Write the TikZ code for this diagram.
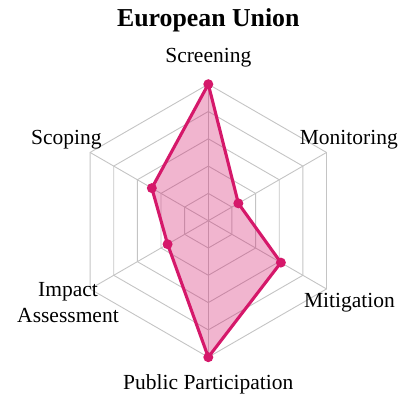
\documentclass[tikz,border=0pt]{standalone}
\usepackage{fontspec}
\setmainfont{Liberation Serif}
\definecolor{eucrimson}{HTML}{D5186A}
\definecolor{gridgray}{HTML}{C4C4C4}
\tikzset{
    grid/.style={draw=gridgray, line width=0.9pt, line join=miter},
    series/.style={draw=eucrimson, line width=3.1pt, line join=round,
        fill=eucrimson, fill opacity=0.32},
    dot/.style={fill=eucrimson},
    axislabel/.style={font=\fontsize{21.5}{26}\selectfont, anchor=base, inner sep=0pt},
    title/.style={font=\fontsize{25.8}{30}\selectfont\bfseries, anchor=base, inner sep=0pt},
}

\begin{document}
\begin{tikzpicture}
    \useasboundingbox (-208.3pt,-174.3pt) rectangle (194.7pt,220.7pt);
    % grid rings
    \draw[grid] (90:27.3pt) -- (30:27.3pt) -- (-30:27.3pt) -- (-90:27.3pt) -- (210:27.3pt) -- (150:27.3pt) -- cycle;
    \draw[grid] (90:54.6pt) -- (30:54.6pt) -- (-30:54.6pt) -- (-90:54.6pt) -- (210:54.6pt) -- (150:54.6pt) -- cycle;
    \draw[grid] (90:81.9pt) -- (30:81.9pt) -- (-30:81.9pt) -- (-90:81.9pt) -- (210:81.9pt) -- (150:81.9pt) -- cycle;
    \draw[grid] (90:109.2pt) -- (30:109.2pt) -- (-30:109.2pt) -- (-90:109.2pt) -- (210:109.2pt) -- (150:109.2pt) -- cycle;
    \draw[grid] (90:136.5pt) -- (30:136.5pt) -- (-30:136.5pt) -- (-90:136.5pt) -- (210:136.5pt) -- (150:136.5pt) -- cycle;
    % spokes
    \coordinate (o) at (0,0);
    \draw[grid] (o) -- (90:136.5pt);
    \draw[grid] (o) -- (30:136.5pt);
    \draw[grid] (o) -- (-30:136.5pt);
    \draw[grid] (o) -- (-90:136.5pt);
    \draw[grid] (o) -- (210:136.5pt);
    \draw[grid] (o) -- (150:136.5pt);
    % data
    \coordinate (scr) at (90:136.5pt);
    \coordinate (mon) at (30:34.7pt);
    \coordinate (mit) at (-30:83.8pt);
    \coordinate (pub) at (-90:136.5pt);
    \coordinate (imp) at (210:47pt);
    \coordinate (sco) at (150:65.2pt);
    \draw[series] (scr) -- (mon) -- (mit) -- (pub) -- (imp) -- (sco) -- cycle;
    \fill[dot] (scr) circle (5pt);
    \fill[dot] (mon) circle (5pt);
    \fill[dot] (mit) circle (5pt);
    \fill[dot] (pub) circle (5pt);
    \fill[dot] (imp) circle (5pt);
    \fill[dot] (sco) circle (5pt);
    % labels
    \node[title] (eu) at (0pt,193.7pt) {European Union};
    \node[axislabel] (lscr) at (0pt,157.7pt) {Screening};
    \node[axislabel] (lsco) at (-142pt,75.7pt) {Scoping};
    \node[axislabel] (lmon) at (140.5pt,75.7pt) {Monitoring};
    \node[axislabel, align=center] (limp) at (-140.3pt,-102pt) {Impact\\Assessment};
    \node[axislabel] (lmit) at (141.2pt,-87pt) {Mitigation};
    \node[axislabel] (lpub) at (0pt,-168.6pt) {Public Participation};
\end{tikzpicture}
\end{document}
